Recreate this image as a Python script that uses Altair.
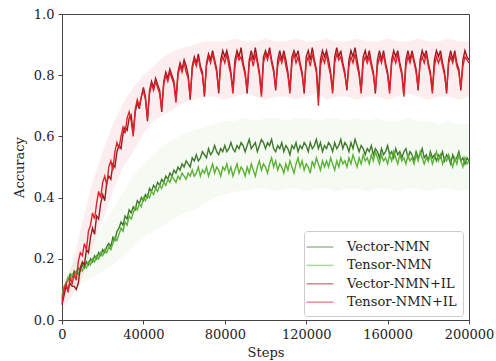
import altair as alt
import pandas as pd

SERIES = ["Vector-NMN", "Tensor-NMN", "Vector-NMN+IL", "Tensor-NMN+IL"]
COLORS = ["#3f7a2c", "#5cb236", "#9a1a20", "#e1212b"]

# x positions of the line samples, in thousands of steps (0 .. 200)
STEP_K = list(range(0, 201))

VECTOR_NMN = [
    0.07, 0.10, 0.12, 0.13, 0.15, 0.14, 0.16, 0.15, 0.17, 0.16,
    0.18, 0.17, 0.19, 0.18, 0.20, 0.19, 0.21, 0.20, 0.22, 0.21,
    0.23, 0.22, 0.24, 0.25, 0.24, 0.27, 0.26, 0.29, 0.30, 0.32,
    0.31, 0.34, 0.33, 0.36, 0.35, 0.37, 0.36, 0.39, 0.38, 0.40,
    0.39, 0.41, 0.40, 0.43, 0.42, 0.44, 0.43, 0.45, 0.44, 0.46,
    0.45, 0.47, 0.46, 0.48, 0.47, 0.49, 0.48, 0.50, 0.49, 0.51,
    0.50, 0.52, 0.51, 0.50, 0.53, 0.52, 0.54, 0.52, 0.53, 0.55,
    0.54, 0.53, 0.56, 0.54, 0.55, 0.57, 0.55, 0.54, 0.56, 0.55,
    0.57, 0.55, 0.56, 0.58, 0.56, 0.55, 0.57, 0.56, 0.58, 0.57,
    0.55, 0.57, 0.59, 0.56, 0.57, 0.58, 0.55, 0.57, 0.59, 0.58,
    0.56, 0.58, 0.57, 0.59, 0.56, 0.55, 0.57, 0.56, 0.58, 0.55,
    0.57, 0.56, 0.54, 0.57, 0.56, 0.58, 0.55, 0.57, 0.56, 0.58,
    0.57, 0.55, 0.58, 0.56, 0.57, 0.59, 0.56, 0.58, 0.55, 0.57,
    0.56, 0.58, 0.57, 0.55, 0.58, 0.56, 0.57, 0.59, 0.56, 0.58,
    0.57, 0.55, 0.58, 0.56, 0.59, 0.57, 0.55, 0.57, 0.56, 0.54,
    0.56, 0.55, 0.57, 0.54, 0.56, 0.55, 0.53, 0.56, 0.54, 0.55,
    0.57, 0.54, 0.55, 0.53, 0.56, 0.54, 0.55, 0.53, 0.55, 0.56,
    0.53, 0.55, 0.54, 0.52, 0.55, 0.53, 0.54, 0.56, 0.53, 0.54,
    0.52, 0.55, 0.53, 0.54, 0.52, 0.54, 0.53, 0.55, 0.52, 0.54,
    0.53, 0.51, 0.54, 0.52, 0.53, 0.55, 0.52, 0.53, 0.51, 0.53,
    0.52,
]

TENSOR_NMN = [
    0.08, 0.11, 0.12, 0.14, 0.13, 0.15, 0.14, 0.16, 0.15, 0.17,
    0.16, 0.18, 0.17, 0.19, 0.18, 0.20, 0.19, 0.21, 0.20, 0.22,
    0.21, 0.23, 0.22, 0.24, 0.23, 0.25, 0.27, 0.26, 0.28, 0.30,
    0.29, 0.32, 0.31, 0.34, 0.33, 0.35, 0.37, 0.36, 0.38, 0.37,
    0.40, 0.39, 0.41, 0.40, 0.42, 0.41, 0.43, 0.42, 0.44, 0.43,
    0.45, 0.44, 0.46, 0.45, 0.47, 0.46, 0.45, 0.47, 0.46, 0.48,
    0.47, 0.46, 0.48, 0.47, 0.49, 0.47, 0.48, 0.50, 0.47, 0.49,
    0.48, 0.50, 0.47, 0.49, 0.51, 0.48, 0.50, 0.49, 0.47, 0.50,
    0.49, 0.51, 0.48, 0.50, 0.47, 0.49, 0.51, 0.48, 0.50, 0.49,
    0.47, 0.50, 0.48, 0.51, 0.49, 0.47, 0.50, 0.52, 0.49, 0.51,
    0.50, 0.48, 0.51, 0.53, 0.50, 0.52, 0.49, 0.51, 0.50, 0.48,
    0.51, 0.49, 0.52, 0.50, 0.48, 0.51, 0.53, 0.50, 0.52, 0.49,
    0.51, 0.50, 0.48, 0.52, 0.50, 0.53, 0.51, 0.49, 0.52, 0.50,
    0.52, 0.50, 0.53, 0.51, 0.49, 0.52, 0.50, 0.53, 0.51, 0.52,
    0.50, 0.53, 0.51, 0.54, 0.52, 0.50, 0.53, 0.51, 0.54, 0.52,
    0.53, 0.51, 0.54, 0.52, 0.55, 0.53, 0.51, 0.54, 0.52, 0.53,
    0.51, 0.54, 0.52, 0.55, 0.53, 0.51, 0.54, 0.52, 0.53, 0.51,
    0.54, 0.52, 0.53, 0.51, 0.54, 0.52, 0.55, 0.53, 0.51, 0.53,
    0.52, 0.54, 0.51, 0.53, 0.55, 0.52, 0.54, 0.51, 0.53, 0.52,
    0.54, 0.52, 0.50, 0.53, 0.51, 0.54, 0.52, 0.50, 0.53, 0.51,
    0.52,
]

VECTOR_NMN_IL = [
    0.05, 0.08, 0.11, 0.10, 0.12, 0.11, 0.11, 0.10, 0.12, 0.17,
    0.19, 0.18, 0.23, 0.22, 0.27, 0.30, 0.28, 0.34, 0.33, 0.38,
    0.41, 0.39, 0.45, 0.47, 0.46, 0.51, 0.50, 0.55, 0.57, 0.56,
    0.61, 0.63, 0.62, 0.66, 0.67, 0.61, 0.68, 0.71, 0.69, 0.73,
    0.76, 0.73, 0.65, 0.75, 0.78, 0.76, 0.79, 0.77, 0.75, 0.68,
    0.78, 0.81, 0.79, 0.82, 0.80, 0.78, 0.72, 0.81, 0.84, 0.82,
    0.85, 0.83, 0.80, 0.72, 0.83, 0.86, 0.84, 0.87, 0.83, 0.81,
    0.73, 0.84, 0.87, 0.85, 0.88, 0.85, 0.82, 0.74, 0.85, 0.88,
    0.86, 0.88, 0.85, 0.81, 0.75, 0.85, 0.88, 0.86, 0.89, 0.84,
    0.81, 0.74, 0.85, 0.88, 0.85, 0.89, 0.85, 0.81, 0.74, 0.86,
    0.88, 0.86, 0.89, 0.85, 0.82, 0.75, 0.85, 0.88, 0.85, 0.88,
    0.85, 0.81, 0.75, 0.86, 0.88, 0.86, 0.88, 0.84, 0.81, 0.74,
    0.86, 0.88, 0.85, 0.89, 0.85, 0.82, 0.73, 0.85, 0.88, 0.86,
    0.88, 0.85, 0.81, 0.75, 0.86, 0.89, 0.86, 0.88, 0.84, 0.81,
    0.75, 0.85, 0.88, 0.86, 0.89, 0.85, 0.81, 0.75, 0.86, 0.88,
    0.85, 0.88, 0.84, 0.81, 0.74, 0.85, 0.88, 0.85, 0.88, 0.84,
    0.81, 0.75, 0.85, 0.88, 0.86, 0.88, 0.84, 0.81, 0.74, 0.85,
    0.88, 0.85, 0.88, 0.85, 0.82, 0.75, 0.85, 0.88, 0.86, 0.88,
    0.84, 0.81, 0.75, 0.85, 0.88, 0.86, 0.88, 0.84, 0.81, 0.74,
    0.85, 0.88, 0.85, 0.88, 0.84, 0.82, 0.75, 0.85, 0.88, 0.86,
    0.85,
]

TENSOR_NMN_IL = [
    0.06, 0.10, 0.12, 0.09, 0.14, 0.12, 0.15, 0.13, 0.19, 0.22,
    0.21, 0.25, 0.23, 0.29, 0.31, 0.35, 0.33, 0.38, 0.42, 0.40,
    0.45, 0.47, 0.44, 0.50, 0.52, 0.49, 0.55, 0.58, 0.56, 0.60,
    0.63, 0.61, 0.66, 0.68, 0.65, 0.60, 0.69, 0.72, 0.70, 0.73,
    0.75, 0.72, 0.66, 0.74, 0.77, 0.75, 0.78, 0.76, 0.74, 0.69,
    0.77, 0.80, 0.78, 0.81, 0.79, 0.77, 0.71, 0.80, 0.83, 0.81,
    0.84, 0.81, 0.79, 0.73, 0.82, 0.85, 0.83, 0.86, 0.82, 0.80,
    0.74, 0.83, 0.86, 0.84, 0.87, 0.84, 0.81, 0.75, 0.84, 0.86,
    0.84, 0.87, 0.83, 0.80, 0.74, 0.83, 0.87, 0.85, 0.86, 0.83,
    0.80, 0.75, 0.84, 0.86, 0.83, 0.87, 0.84, 0.80, 0.73, 0.84,
    0.87, 0.85, 0.88, 0.84, 0.81, 0.76, 0.83, 0.86, 0.84, 0.87,
    0.83, 0.80, 0.74, 0.84, 0.87, 0.84, 0.86, 0.83, 0.80, 0.75,
    0.84, 0.86, 0.83, 0.87, 0.84, 0.81, 0.70, 0.83, 0.86, 0.84,
    0.87, 0.83, 0.80, 0.74, 0.84, 0.87, 0.85, 0.86, 0.83, 0.80,
    0.76, 0.83, 0.86, 0.84, 0.87, 0.83, 0.80, 0.74, 0.84, 0.86,
    0.84, 0.86, 0.83, 0.80, 0.75, 0.83, 0.86, 0.84, 0.87, 0.83,
    0.80, 0.74, 0.84, 0.86, 0.84, 0.87, 0.83, 0.80, 0.73, 0.83,
    0.86, 0.84, 0.87, 0.84, 0.81, 0.76, 0.84, 0.86, 0.84, 0.87,
    0.83, 0.80, 0.74, 0.83, 0.86, 0.84, 0.86, 0.83, 0.80, 0.75,
    0.84, 0.86, 0.84, 0.87, 0.83, 0.81, 0.76, 0.83, 0.86, 0.85,
    0.84,
]

# spread bands, sampled every 5000 steps (0 .. 200)
BAND_K = list(range(0, 201, 5))
GREEN_LO = [0.05, 0.10, 0.12, 0.14, 0.16, 0.18, 0.21, 0.24, 0.27, 0.29,
            0.31, 0.33, 0.35, 0.36, 0.38, 0.40, 0.41, 0.42, 0.42, 0.43,
            0.43, 0.42, 0.43, 0.43, 0.42, 0.43, 0.43, 0.42, 0.43, 0.43,
            0.42, 0.43, 0.43, 0.42, 0.43, 0.43, 0.42, 0.43, 0.43, 0.42,
            0.43]
GREEN_HI = [0.12, 0.18, 0.23, 0.26, 0.31, 0.36, 0.42, 0.47, 0.51, 0.54,
            0.57, 0.59, 0.61, 0.62, 0.63, 0.64, 0.65, 0.65, 0.66, 0.65,
            0.66, 0.66, 0.65, 0.66, 0.66, 0.65, 0.66, 0.66, 0.65, 0.66,
            0.65, 0.66, 0.65, 0.65, 0.66, 0.65, 0.65, 0.64, 0.65, 0.64,
            0.64]
RED_LO = [0.03, 0.08, 0.14, 0.24, 0.33, 0.42, 0.50, 0.55, 0.61, 0.65,
          0.67, 0.69, 0.71, 0.72, 0.73, 0.73, 0.72, 0.73, 0.74, 0.73,
          0.72, 0.73, 0.73, 0.72, 0.73, 0.74, 0.72, 0.73, 0.73, 0.72,
          0.73, 0.73, 0.72, 0.73, 0.74, 0.73, 0.72, 0.73, 0.73, 0.72,
          0.73]
RED_HI = [0.10, 0.18, 0.32, 0.45, 0.55, 0.64, 0.71, 0.76, 0.80, 0.83,
          0.86, 0.88, 0.89, 0.90, 0.91, 0.91, 0.91, 0.92, 0.91, 0.91,
          0.92, 0.91, 0.91, 0.92, 0.91, 0.91, 0.92, 0.91, 0.91, 0.92,
          0.91, 0.91, 0.92, 0.91, 0.91, 0.92, 0.91, 0.91, 0.92, 0.91,
          0.91]

rows = []
for name, vals in zip(SERIES, [VECTOR_NMN, TENSOR_NMN, VECTOR_NMN_IL, TENSOR_NMN_IL]):
    for k, v in zip(STEP_K, vals):
        rows.append({"series": name, "step": k * 1000, "acc": v})
lines_df = pd.DataFrame(rows)

brows = []
for fam, lo, hi in [("green", GREEN_LO, GREEN_HI), ("red", RED_LO, RED_HI)]:
    for k, a, b in zip(BAND_K, lo, hi):
        brows.append({"family": fam, "step": k * 1000, "lo": a, "hi": b})
band_df = pd.DataFrame(brows)

FONT = "DejaVu Serif"

x_enc = alt.X(
    "step:Q",
    scale=alt.Scale(domain=[0, 200000], nice=False),
    axis=alt.Axis(values=[0, 40000, 80000, 120000, 160000, 200000], format="d",
                  title="Steps", labelPadding=4, titlePadding=5,
                  labelFlush=False, labelOverlap=False),
)
y_enc = alt.Y(
    "acc:Q",
    scale=alt.Scale(domain=[0, 1.0], nice=False),
    axis=alt.Axis(values=[0, 0.2, 0.4, 0.6, 0.8, 1.0], format=".1f",
                  title="Accuracy", labelPadding=4, titlePadding=7,
                  labelFlush=False, labelOverlap=False),
)

color_scale = alt.Scale(domain=SERIES, range=COLORS)
legend = alt.Legend(
    title=None, orient="none", legendX=242, legendY=217,
    symbolType="M-1.5,0H1.5", symbolSize=324, symbolStrokeWidth=1.5,
    symbolOpacity=0.5, labelFont=FONT, labelFontSize=13, labelColor="#222",
    labelOffset=17, padding=6, rowPadding=1.4,
    strokeColor="#cccccc", fillColor="white", cornerRadius=3,
)

band_colors = {"green": "#8cc870", "red": "#e25560"}
band_opac = {"green": 0.09, "red": 0.1}
layers = []
for fam in ["green", "red"]:
    layers.append(
        alt.Chart(band_df).transform_filter(alt.datum.family == fam)
        .mark_area(opacity=band_opac[fam], color=band_colors[fam])
        .encode(x=alt.X("step:Q"), y=alt.Y("lo:Q"), y2="hi:Q")
    )

for name in SERIES:
    layers.append(
        alt.Chart(lines_df).transform_filter(alt.datum.series == name)
        .mark_line(strokeWidth=1.4)
        .encode(x=x_enc, y=y_enc,
                color=alt.Color("series:N", scale=color_scale, legend=legend))
    )

chart = (
    alt.layer(*layers)
    .properties(width=407, height=306,
                padding={"left": 62, "top": 14, "right": 27, "bottom": 41},
                autosize=alt.AutoSizeParams(type="none"))
    .configure_axis(domainColor="#444", tickColor="#444", tickSize=4,
                    labelFont=FONT, titleFont=FONT, labelFontSize=13,
                    titleFontSize=13, titleFontWeight="normal",
                    labelColor="#222", titleColor="#222", grid=False)
    .configure_view(stroke="#444", strokeWidth=1)
)

chart.save("out.html", embed_options={"renderer": "svg", "actions": False})
